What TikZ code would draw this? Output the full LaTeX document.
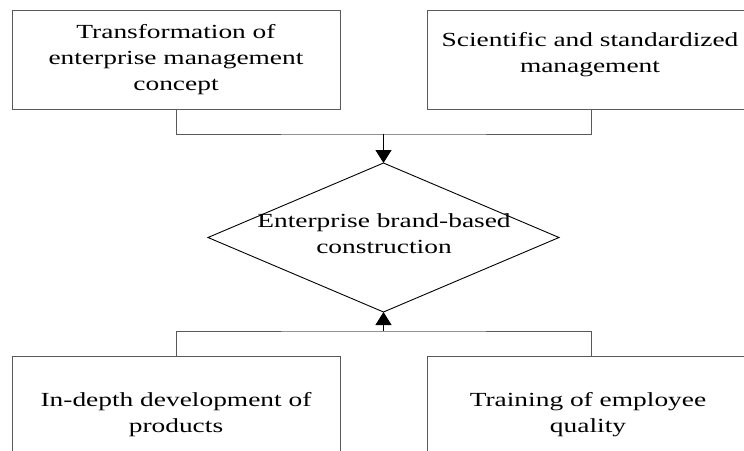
\documentclass[tikz,border=0pt]{standalone}
\usepackage{fontspec}
\setmainfont[FakeStretch=1.37]{Liberation Serif}
\usetikzlibrary{shapes.geometric,arrows.meta}
\begin{document}
\begin{tikzpicture}[x=1pt,y=-1pt,
  box/.style={draw=black!65,line width=1pt,rectangle,minimum width=328pt,inner sep=0pt,outer sep=0pt},
  txt/.style={align=center,inner sep=0pt,font=\fontsize{20}{26}\selectfont},
  link/.style={draw=black!65,line width=1pt},
  arr/.style={draw=black,line width=0.9pt,-{Triangle[width=16pt,length=13pt]}},
  dia/.style={draw=black,line width=0.9pt,diamond,minimum width=351pt,minimum height=149pt,inner sep=0pt,outer sep=0pt}]
\useasboundingbox (0,0) rectangle (744,450);
\clip (0,0) rectangle (744,450);
\fill[white] (0,0) rectangle (744,450);
% top boxes
\node[box,minimum height=99pt] (tl) at (176,59.5) {};
\node[box,minimum height=99pt] (tr) at (591,59.5) {};
\node[txt] (tlt) at (176,60) {Transformation of\\enterprise management\\concept};
\node[txt] (trt) at (590,55) {Scientific and standardized\\management};
% diamond
\node[dia] (d) at (383.5,237.5) {};
\node[txt] (dt) at (384,234) {Enterprise brand-based\\construction};
% bottom boxes
\node[box,minimum height=130pt] (bl) at (176,421) {};
\node[box,minimum height=130pt] (br) at (591,421) {};
\node[txt] (blt) at (176,415) {In-depth development of\\products};
\node[txt] (brt) at (588,415) {Training of employee\\quality};
% connectors
\coordinate (jt) at (383.5,134);
\coordinate (jb) at (383.5,331);
\draw[link] (tl.south) |- (jt) -| (tr.south);
\draw[arr] (jt) -- (d.north);
\draw[link] (bl.north) |- (jb) -| (br.north);
\draw[arr] (jb) -- (d.south);
\end{tikzpicture}
\end{document}
